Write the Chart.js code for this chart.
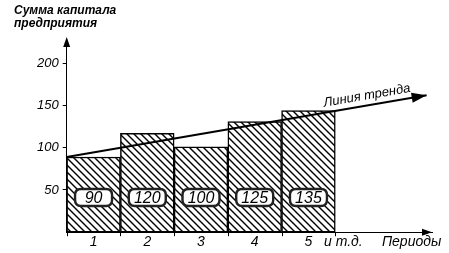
<!DOCTYPE html>
<html>
<head>
<meta charset="utf-8">
<script src="https://cdn.jsdelivr.net/npm/chart.js@4.4.0/dist/chart.umd.min.js"></script>
<style>
  body { margin: 0; background: #fff; }
  canvas { display: block; }
</style>
</head>
<body>
<canvas id="chart" width="449" height="253"></canvas>
<script>
// bar heights (left axis units)
const periods = ['1', '2', '3', '4', '5'];
const capital = [89, 117, 101, 131, 144];
// numbers printed inside the bars
const boxLabels = ['90', '120', '100', '125', '135'];
// x-axis texts and where they sit (in period units)
const xTickValues = [0.5, 1.5, 2.5, 3.5, 4.5, 5.15, 6.42];
const xTickLabels = ['1', '2', '3', '4', '5', 'и т.д.', 'Периоды'];
const yTickValues = [50, 100, 150, 200];
// trend line end points
const trendX = [0, 6.7];
const trendY = [89, 162];

const titleLines = ['Сумма капитала', 'предприятия'];
const trendText = 'Линия тренда';
const boxLevel = 41; // height where the number boxes sit

const NARROW = '"Liberation Sans Narrow", "Liberation Sans", Arial, sans-serif';
const SANS = '"Liberation Sans", Arial, sans-serif';

// diagonal hatching
const makeHatch = () => {
    const s = 7;
    const c = document.createElement('canvas');
    c.width = s; c.height = s;
    const g = c.getContext('2d');
    g.fillStyle = '#fff';
    g.fillRect(0, 0, s, s);
    g.strokeStyle = '#000';
    g.lineWidth = 1.4;
    g.beginPath();
    g.moveTo(-1, -1); g.lineTo(s + 1, s + 1);
    g.moveTo(-1, s - 1); g.lineTo(1, s + 1);
    g.moveTo(s - 1, -1); g.lineTo(s + 1, 1);
    g.stroke();
    return g.createPattern(c, 'repeat');
};

const arrowHead = (ctx, x, y, angle, len, half) => {
    ctx.save();
    ctx.translate(x, y);
    ctx.rotate(angle);
    ctx.beginPath();
    ctx.moveTo(0, 0);
    ctx.lineTo(-len, -half);
    ctx.lineTo(-len, half);
    ctx.closePath();
    ctx.fill();
    ctx.restore();
};

const roundRect = (ctx, x, y, w, h, r) => {
    ctx.beginPath();
    ctx.moveTo(x + r, y);
    ctx.lineTo(x + w - r, y);
    ctx.quadraticCurveTo(x + w, y, x + w, y + r);
    ctx.lineTo(x + w, y + h - r);
    ctx.quadraticCurveTo(x + w, y + h, x + w - r, y + h);
    ctx.lineTo(x + r, y + h);
    ctx.quadraticCurveTo(x, y + h, x, y + h - r);
    ctx.lineTo(x, y + r);
    ctx.quadraticCurveTo(x, y, x + r, y);
    ctx.closePath();
};

const extras = {
    id: 'extras',
    afterDatasetsDraw(chart) {
        const { ctx, chartArea: a, scales: { x, y } } = chart;
        ctx.save();
        ctx.fillStyle = '#000';
        ctx.strokeStyle = '#000';

        // axis arrows
        arrowHead(ctx, a.left, a.top - 5, -Math.PI / 2, 10, 3.5);
        arrowHead(ctx, a.right, a.bottom, 0, 10, 3.5);

        // small marks between periods
        ctx.lineWidth = 1;
        for (let i = 0; i <= periods.length; i++) {
            const px = Math.round(x.getPixelForValue(i)) + 0.5;
            ctx.beginPath();
            ctx.moveTo(px, a.bottom);
            ctx.lineTo(px, a.bottom + 4);
            ctx.stroke();
        }

        // boxes with the numbers
        ctx.font = 'italic 16px ' + SANS;
        ctx.textAlign = 'center';
        ctx.textBaseline = 'middle';
        boxLabels.forEach((t, i) => {
            const cx = x.getPixelForValue(i + 0.5);
            const cy = y.getPixelForValue(boxLevel);
            const w = 37, h = 17;
            roundRect(ctx, cx - w / 2, cy - h / 2, w, h, 6);
            ctx.fillStyle = '#fff';
            ctx.fill();
            ctx.lineWidth = 2.4;
            ctx.strokeStyle = '#222';
            ctx.stroke();
            ctx.fillStyle = '#000';
            ctx.fillText(t, cx, cy + 1);
        });

        // trend arrow + text
        const x0 = x.getPixelForValue(trendX[0]), y0 = y.getPixelForValue(trendY[0]);
        const x1 = x.getPixelForValue(trendX[1]), y1 = y.getPixelForValue(trendY[1]);
        const ang = Math.atan2(y1 - y0, x1 - x0);
        arrowHead(ctx, x1, y1, ang, 15, 5);
        ctx.save();
        const f = 5.62 / trendX[1];
        ctx.translate(x0 + (x1 - x0) * f, y0 + (y1 - y0) * f);
        ctx.rotate(ang);
        ctx.font = 'italic 13px ' + NARROW;
        ctx.textAlign = 'center';
        ctx.textBaseline = 'alphabetic';
        ctx.fillText(trendText, 0, -6);
        ctx.restore();

        // axis title at the top-left
        ctx.font = 'italic bold 12px ' + NARROW;
        ctx.textAlign = 'left';
        ctx.textBaseline = 'alphabetic';
        ctx.fillText(titleLines[0], 14, 14);
        ctx.fillText(titleLines[1], 14, 27);

        ctx.restore();
    }
};

new Chart(document.getElementById('chart'), {
    type: 'bar',
    data: {
        datasets: [
            {
                data: capital.map((v, i) => ({ x: i + 0.5, y: v })),
                backgroundColor: makeHatch(),
                borderColor: '#000',
                borderWidth: 1.5,
                borderSkipped: false,
                barThickness: 'flex',
                categoryPercentage: 1,
                barPercentage: 1,
                order: 2
            },
            {
                type: 'line',
                data: trendX.map((v, i) => ({ x: v, y: trendY[i] })),
                borderColor: '#000',
                borderWidth: 2,
                pointRadius: 0,
                tension: 0,
                order: 1
            }
        ]
    },
    options: {
        responsive: false,
        animation: false,
        layout: { padding: { top: 42, right: 17, left: 33, bottom: 0 } },
        plugins: { legend: { display: false }, tooltip: { enabled: false } },
        scales: {
            x: {
                type: 'linear',
                offset: false,
                min: 0,
                max: 6.8,
                afterBuildTicks: axis => { axis.ticks = xTickValues.map(v => ({ value: v })); },
                ticks: {
                    autoSkip: false,
                    maxRotation: 0,
                    padding: 2,
                    color: '#000',
                    font: { family: NARROW, style: 'italic', size: 14 },
                    callback: (v) => xTickLabels[xTickValues.indexOf(v)] ?? ''
                },
                grid: { display: false, drawTicks: false, offset: false },
                border: { color: '#000', width: 1, dash: [4, 2] }
            },
            y: {
                min: 0,
                max: 225,
                afterBuildTicks: axis => { axis.ticks = yTickValues.map(v => ({ value: v })); },
                ticks: {
                    padding: 4,
                    color: '#000',
                    font: { family: SANS, style: 'italic', size: 13 }
                },
                grid: { drawOnChartArea: false, tickLength: 4, color: '#000' },
                border: { color: '#000', width: 1, dash: [4, 2] }
            }
        }
    },
    plugins: [extras]
});
</script>
</body>
</html>
